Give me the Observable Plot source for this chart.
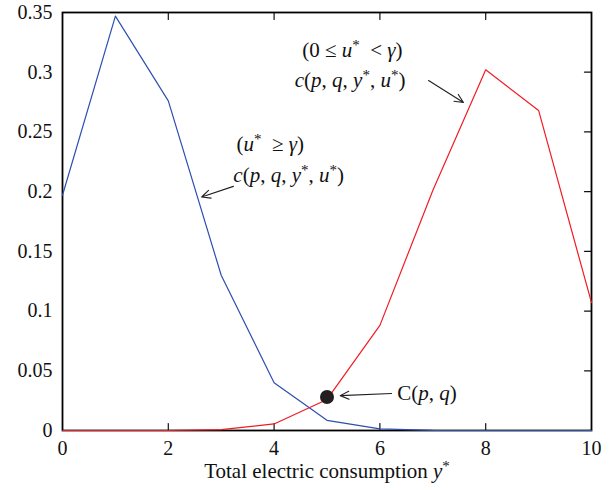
<!DOCTYPE html>
<html>
<head>
<meta charset="utf-8">
<script src="https://cdn.jsdelivr.net/npm/d3@7"></script>
<script src="https://cdn.jsdelivr.net/npm/@observablehq/plot@0.6"></script>
<style>
  html, body { margin: 0; padding: 0; background: white; }
</style>
</head>
<body>
<div id="chart"></div>
<script>
// x categories (total electric consumption y*)
const xValues = [0, 1, 2, 3, 4, 5, 6, 7, 8, 9, 10];
// blue series: u* >= gamma
const blueValues = [0.197, 0.347, 0.276, 0.130, 0.040, 0.0085, 0.0013, 0.0001, 0, 0, 0];
// red series: 0 <= u* < gamma
const redValues = [0, 0, 0, 0.0008, 0.0055, 0.026, 0.088, 0.201, 0.302, 0.268, 0.107];
// marked point C(p,q)
const pointC = [{x: 5, y: 0.028}];

const xTicks = [0, 2, 4, 6, 8, 10];
const xTickLabels = ["0", "2", "4", "6", "8", "10"];
const yTicks = [0, 0.05, 0.1, 0.15, 0.2, 0.25, 0.3, 0.35];
const yTickLabels = ["0", "0.05", "0.1", "0.15", "0.2", "0.25", "0.3", "0.35"];
const xInnerTicks = [2, 4, 6, 8];
const yInnerTicks = [0.05, 0.1, 0.15, 0.2, 0.25, 0.3];

// markup: _ toggles italic, ^ makes next char superscript
const xLabel = "Total electric consumption _y_^*";

const annotTexts = [
  {x: 3.29, y: 0.240, t: "(_u_^*  ≥ _γ_)"},
  {x: 3.23, y: 0.2135, t: "_c_(_p_, _q_, _y_^*, _u_^*)"},
  {x: 4.53, y: 0.318, t: "(0 ≤ _u_^*  < _γ_)"},
  {x: 4.39, y: 0.293, t: "_c_(_p_, _q_, _y_^*, _u_^*)"},
  {x: 6.33, y: 0.031, t: "C(_p_, _q_)"}
];
const annotArrows = [
  {x1: 3.23, y1: 0.2044, x2: 2.63, y2: 0.1955},
  {x1: 6.92, y1: 0.293, x2: 7.58, y2: 0.2747},
  {x1: 6.22, y1: 0.031, x2: 5.25, y2: 0.0292}
];

const blueData = xValues.map((x, i) => ({x, y: blueValues[i]}));
const redData = xValues.map((x, i) => ({x, y: redValues[i]}));

const tickShape = {
  draw(context, l) { context.moveTo(0, 0); context.lineTo(0, -l); }
};

const FONT = "'Liberation Serif', 'DejaVu Serif', serif";
const FS_TICK = 20;
const FS_TEXT = 21;

const svg = Plot.plot({
  width: 616,
  height: 490,
  marginLeft: 62,
  marginRight: 25,
  marginTop: 12,
  marginBottom: 60,
  style: {fontFamily: FONT, fontSize: FS_TICK + "px", background: "white", color: "#111"},
  x: {domain: [0, 10]},
  y: {domain: [0, 0.35]},
  marks: [
    Plot.axisX(xTicks, {tickSize: 0, tickPadding: 10, label: null, fontSize: FS_TICK,
      tickFormat: d => xTickLabels[xTicks.indexOf(d)]}),
    Plot.axisY(yTicks, {tickSize: 0, tickPadding: 10, label: null, fontSize: FS_TICK,
      tickFormat: d => yTickLabels[yTicks.indexOf(d)]}),
    Plot.vector(xInnerTicks, {x: d => d, frameAnchor: "bottom", length: 7, rotate: 0, anchor: "start", shape: tickShape, stroke: "#111", strokeWidth: 1.2}),
    Plot.vector(xInnerTicks, {x: d => d, frameAnchor: "top", length: 7, rotate: 180, anchor: "start", shape: tickShape, stroke: "#111", strokeWidth: 1.2}),
    Plot.vector(yInnerTicks, {y: d => d, frameAnchor: "right", length: 7, rotate: 270, anchor: "start", shape: tickShape, stroke: "#111", strokeWidth: 1.2}),
    Plot.frame({stroke: "#000", strokeWidth: 1.8}),
    Plot.line(blueData, {x: "x", y: "y", stroke: "#2c4fb0", strokeWidth: 1.2}),
    Plot.line(redData, {x: "x", y: "y", stroke: "#f01c24", strokeWidth: 1.2}),
    Plot.dot(pointC, {x: "x", y: "y", r: 7, fill: "#231f20"}),
    Plot.arrow(annotArrows, {x1: "x1", y1: "y1", x2: "x2", y2: "y2", stroke: "#231f20", strokeWidth: 1.1, headLength: 13, headAngle: 50}),
    Plot.text(annotTexts, {x: "x", y: "y", text: "t", textAnchor: "start", fontSize: FS_TEXT, fill: "#111"}),
    Plot.text([xLabel], {frameAnchor: "bottom", dy: 47, text: d => d, fontSize: FS_TEXT, fill: "#111"})
  ]
});

// Rebuild texts containing markup into tspans
const NS = "http://www.w3.org/2000/svg";
d3.select(svg).selectAll("text").each(function() {
  const el = this;
  const s = el.textContent;
  if (!s.includes("_") && !s.includes("^")) return;
  while (el.firstChild) el.removeChild(el.firstChild);
  let italic = false, buf = "", shift = 0;
  const flush = () => {
    if (!buf) return;
    const ts = document.createElementNS(NS, "tspan");
    if (italic) ts.setAttribute("font-style", "italic");
    if (shift) { ts.setAttribute("dy", -shift); shift = 0; }
    ts.textContent = buf;
    el.appendChild(ts);
    buf = "";
  };
  for (let i = 0; i < s.length; i++) {
    const c = s[i];
    if (c === "_") { flush(); italic = !italic; }
    else if (c === "^") {
      flush();
      const sup = document.createElementNS(NS, "tspan");
      sup.setAttribute("dy", -7);
      sup.setAttribute("font-size", Math.round(FS_TEXT * 0.72));
      sup.setAttribute("font-style", "normal");
      sup.textContent = s[++i];
      el.appendChild(sup);
      shift = -7;
    }
    else buf += c;
  }
  flush();
});

document.getElementById("chart").appendChild(svg);
</script>
</body>
</html>
